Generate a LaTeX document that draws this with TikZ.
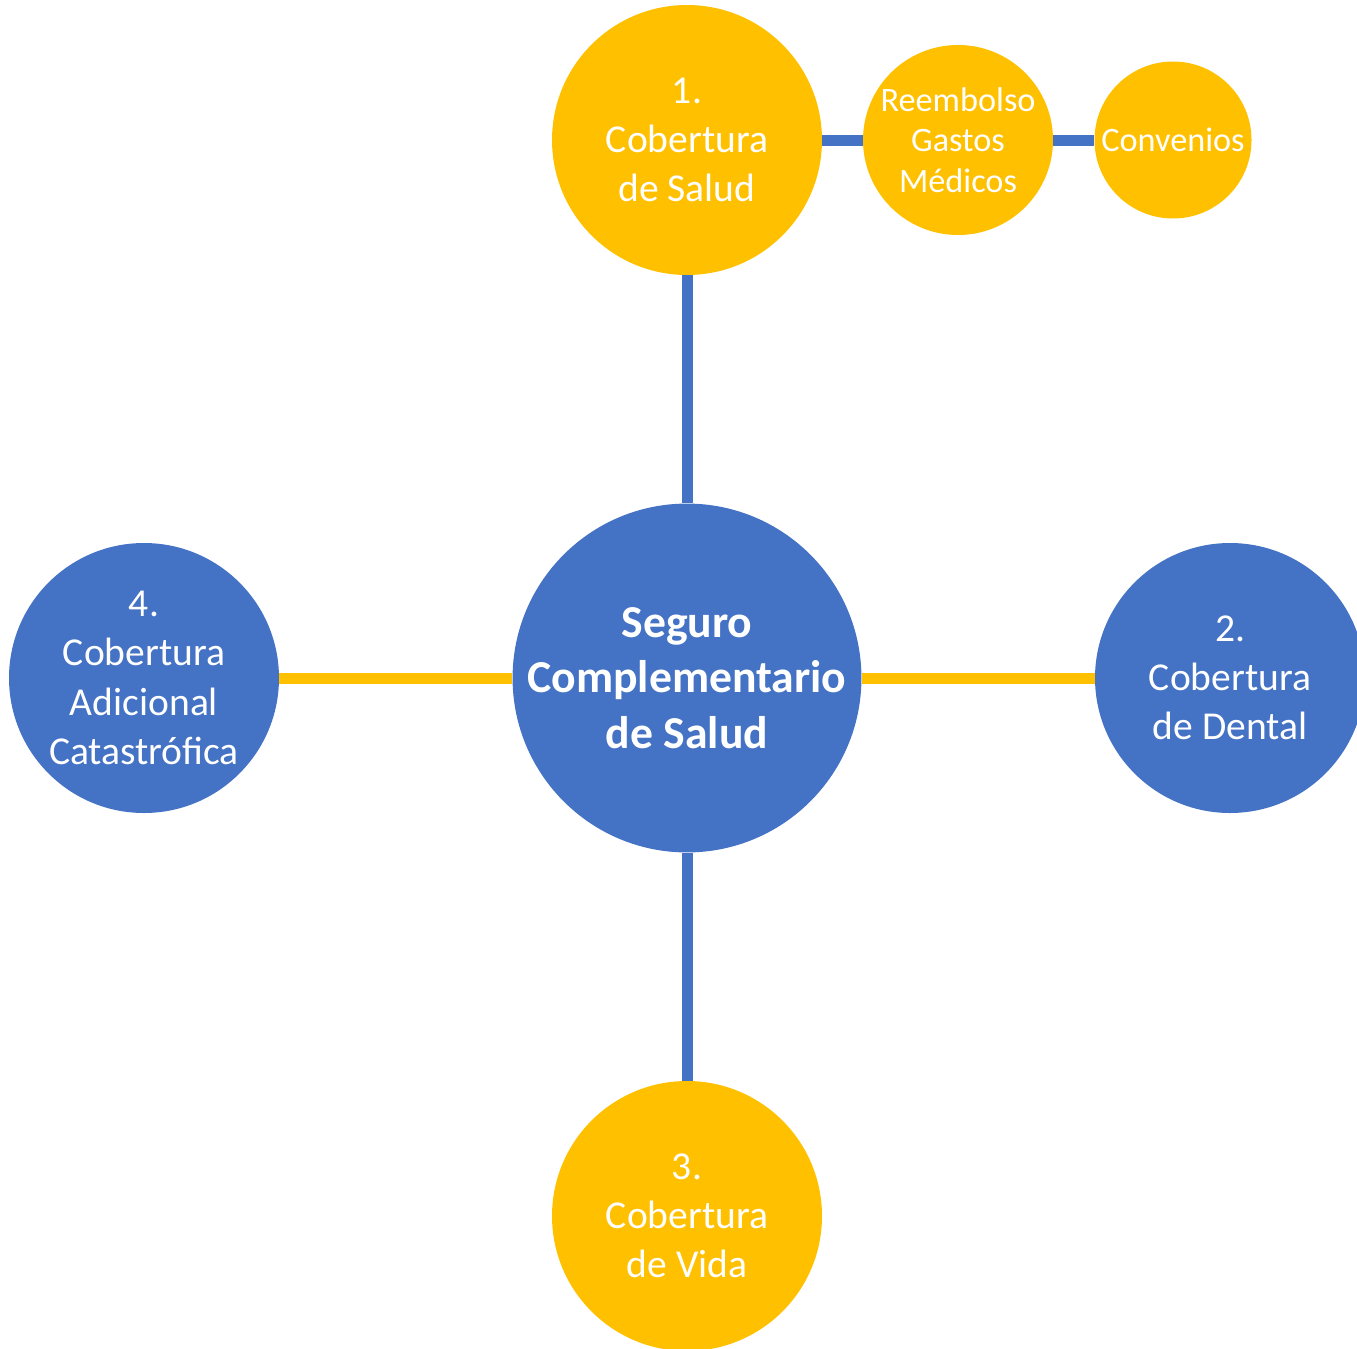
\documentclass[tikz,border=0pt]{standalone}
\usepackage{fontspec}
\setmainfont{Carlito}
\usetikzlibrary{positioning}
\definecolor{azul}{HTML}{4472C4}
\definecolor{amarillo}{HTML}{FFC000}
\tikzset{
  bola/.style={circle, inner sep=0pt, text=white, align=center, minimum size=5.4cm},
  bolaazul/.style={bola, fill=azul},
  bolaamarilla/.style={bola, fill=amarillo},
  texto/.style={font=\fontsize{22.5}{28}\selectfont},
  enlace/.style={line width=0.22cm}
}
\begin{document}
\begin{tikzpicture}[x=1cm, y=1cm]
  \useasboundingbox (0,0) rectangle (27.14,-26.96);
  \clip (0,0) rectangle (27.14,-26.96);
  \node[bolaazul, minimum size=6.84cm, font=\bfseries\fontsize{26}{31.7}\selectfont] (seguro) at (13.74,-13.56) {Seguro\\Complementario\\de Salud};
  \node[bolaamarilla, texto] (salud) at (13.74,-2.8) {1.\\Cobertura\\de Salud};
  \node[bolaamarilla, minimum size=3.8cm, font=\fontsize{19.5}{23.2}\selectfont] (reembolso) at (19.16,-2.8) {Reembolso\\Gastos\\Médicos};
  \node[bolaamarilla, minimum size=3.14cm, font=\fontsize{19.5}{23.2}\selectfont] (convenios) at (23.46,-2.8) {Convenios};
  \node[bolaazul, texto] (dental) at (24.6,-13.56) {2.\\Cobertura\\de Dental};
  \node[bolaamarilla, texto] (vida) at (13.74,-24.32) {3.\\Cobertura\\de Vida};
  \node[bolaazul, texto] (catastrofica) at (2.88,-13.56) {4.\\Cobertura\\Adicional\\Catastrófica};

  % conectores
  \draw[enlace, azul] (salud) -- (seguro);
  \draw[enlace, azul] (seguro) -- (vida);
  \draw[enlace, amarillo] (seguro) -- (dental);
  \draw[enlace, amarillo] (seguro) -- (catastrofica);
  \draw[enlace, azul] (salud) -- (reembolso);
  \draw[enlace, azul] (reembolso) -- (convenios);
\end{tikzpicture}
\end{document}
